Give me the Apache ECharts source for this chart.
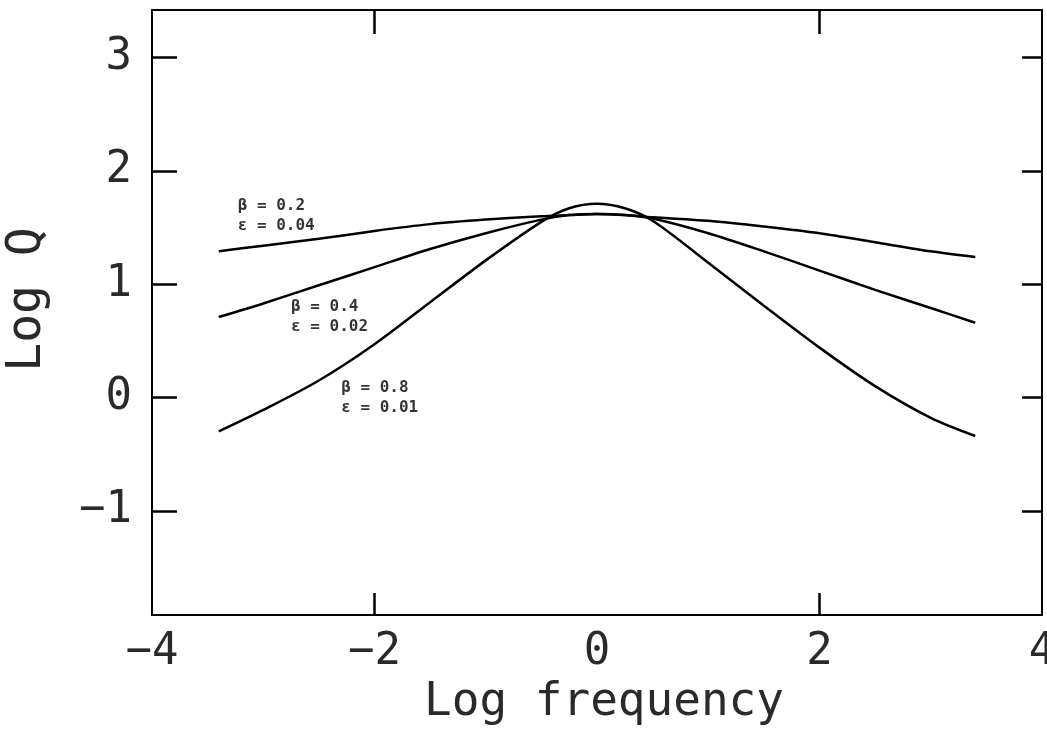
<!DOCTYPE html>
<html>
<head>
<meta charset="utf-8">
<script src="https://cdn.jsdelivr.net/npm/echarts@6/dist/echarts.min.js"></script>
<style>
  html, body { margin: 0; padding: 0; background: #fff; }
  #chart { width: 1047px; height: 738px; }
</style>
</head>
<body>
<div id="chart"></div>
<script>
// log frequency samples
var logFreq = [-3.4, -3, -2.5, -2, -1.5, -1, -0.5, -0.25, 0, 0.25, 0.5, 1, 1.5, 2, 2.5, 3, 3.4];
// log Q for each curve
var qBeta02 = [1.29, 1.34, 1.40, 1.47, 1.53, 1.57, 1.60, 1.61, 1.62, 1.61, 1.59, 1.56, 1.51, 1.45, 1.37, 1.29, 1.24];
var qBeta04 = [0.71, 0.83, 0.99, 1.15, 1.31, 1.45, 1.57, 1.61, 1.62, 1.61, 1.58, 1.45, 1.29, 1.12, 0.95, 0.79, 0.66];
var qBeta08 = [-0.30, -0.11, 0.15, 0.47, 0.84, 1.21, 1.55, 1.67, 1.71, 1.67, 1.56, 1.19, 0.81, 0.44, 0.10, -0.18, -0.34];

var xTicks = [-2, 2];
var yTicks = [-1, 0, 1, 2, 3];

// curve annotations
var noteText = ['β = 0.2\nε = 0.04', 'β = 0.4\nε = 0.02', 'β = 0.8\nε = 0.01'];
var noteX = [-3.23, -2.75, -2.30];
var noteY = [1.60, 0.71, -0.005];

function pairs(xs, ys) {
    return xs.map(function (x, i) { return [x, ys[i]]; });
}

function minus(v) {
    return String(v).replace('-', '\u2212');
}

var font = 'DejaVu Sans Mono';
var ink = '#2a2a2a';

function curve(ys) {
    return {
        type: 'line',
        data: pairs(logFreq, ys),
        smooth: 0.3,
        showSymbol: false,
        silent: true,
        lineStyle: { color: '#000', width: 2.5 },
        z: 3
    };
}

var notes = noteText.map(function (t, i) {
    return { value: [noteX[i], noteY[i]], name: t };
});

var option = {
    animation: false,
    backgroundColor: '#fff',
    grid: { left: 152, right: 5, top: 10, bottom: 123, outerBoundsMode: 'none' },
    xAxis: [{
        type: 'value', min: -4, max: 4, interval: 2,
        name: 'Log frequency', nameLocation: 'middle', nameGap: 56,
        nameTextStyle: { fontFamily: font, fontSize: 46, color: ink, padding: [0, 0, 0, 14] },
        axisLine: { show: true, onZero: false, lineStyle: { color: '#000', width: 2 } },
        axisTick: { show: true, inside: true, length: 22, customValues: xTicks, lineStyle: { color: '#000', width: 2.5 } },
        axisLabel: { fontFamily: font, fontSize: 44, color: ink, margin: 16, formatter: minus },
        splitLine: { show: false }
    }, {
        type: 'value', min: -4, max: 4, interval: 2, position: 'top',
        axisLine: { show: true, onZero: false, lineStyle: { color: '#000', width: 2 } },
        axisTick: { show: true, inside: true, length: 24, customValues: xTicks, lineStyle: { color: '#000', width: 2.5 } },
        axisLabel: { show: false },
        splitLine: { show: false }
    }],
    yAxis: [{
        type: 'value', min: -1.92, max: 3.42,
        name: 'Log Q', nameLocation: 'middle', nameGap: 100, nameRotate: 90,
        nameTextStyle: { fontFamily: font, fontSize: 48, color: ink, padding: [0, 0, 0, 26] },
        axisLine: { show: true, onZero: false, lineStyle: { color: '#000', width: 2 } },
        axisTick: { show: true, inside: true, length: 25, customValues: yTicks, lineStyle: { color: '#000', width: 2.5 } },
        axisLabel: { fontFamily: font, fontSize: 44, color: ink, margin: 20, customValues: yTicks, formatter: minus },
        splitLine: { show: false }
    }, {
        type: 'value', min: -1.92, max: 3.42, position: 'right',
        axisLine: { show: true, onZero: false, lineStyle: { color: '#000', width: 2 } },
        axisTick: { show: true, inside: true, length: 20, customValues: yTicks, lineStyle: { color: '#000', width: 2.5 } },
        axisLabel: { show: false },
        splitLine: { show: false }
    }],
    series: [
        curve(qBeta02),
        curve(qBeta04),
        curve(qBeta08),
        {
            type: 'scatter',
            data: notes,
            symbolSize: 0,
            silent: true,
            label: {
                show: true,
                position: 'inside',
                align: 'left',
                verticalAlign: 'middle',
                formatter: function (p) { return p.name; },
                fontFamily: font,
                fontSize: 16,
                fontWeight: 'bold',
                lineHeight: 20,
                color: '#000'
            },
            z: 4
        }
    ]
};

var chart = echarts.init(document.getElementById('chart'));
chart.setOption(option);
</script>
</body>
</html>
